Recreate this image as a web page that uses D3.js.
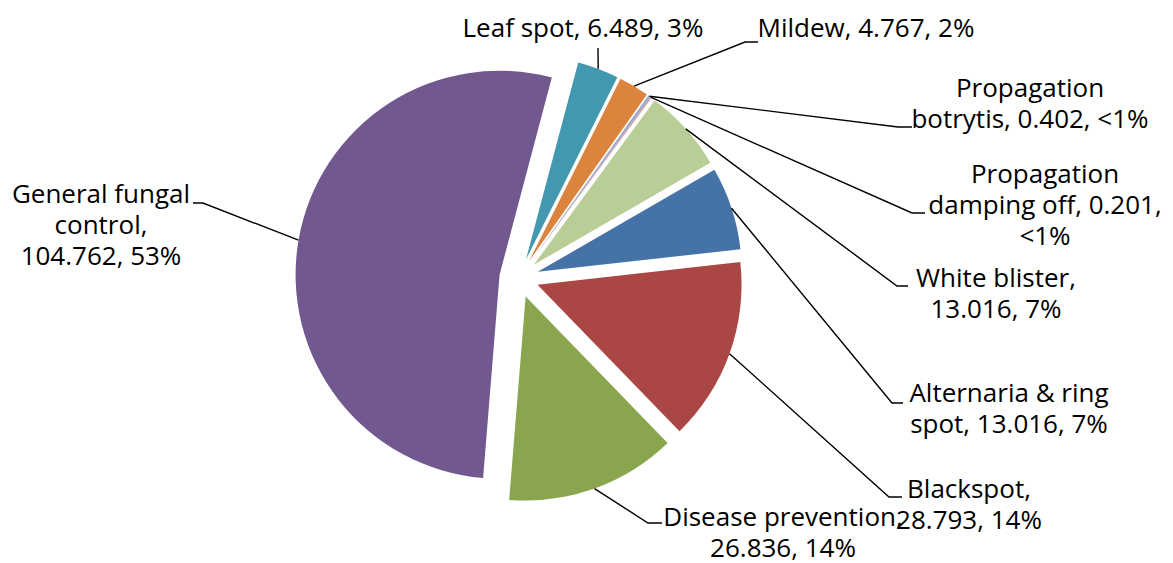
<!DOCTYPE html>
<html><head><meta charset="utf-8">
<script src="https://cdn.jsdelivr.net/npm/d3@7"></script>
<style>body{margin:0;background:#fff}svg{display:block}</style>
</head><body>
<svg id="chart" width="1173" height="563"></svg>
<script>
// ---- data ----
const categories = ["Alternaria & ring spot","Blackspot","Disease prevention","General fungal control","Leaf spot","Mildew","Propagation botrytis","Propagation damping off","White blister"];
const values = [13.016,28.793,26.836,104.762,6.489,4.767,0.402,0.201,13.016];
const percentLabels = ["7%","14%","14%","53%","3%","2%","<1%","<1%","7%"];
const colors = ["#4572A7","#AA4643","#89A54E","#71588F","#4198AF","#DB843D","#93A9CF","#D19392","#B9CD96"];

// ---- layout ----
const cx = 519, cy = 278, R = 204, explode = 19.7, startDeg = 60;
const fontSize = 26, lineH = 31;
const labelLayout = [
  {breaks:[3,3],   x:1009, y:402, pts:[[892,403],[903,403]]},
  {breaks:[1,2],   x:969,  y:498, pts:[[889,497],[902,497]]},
  {breaks:[2,2],   x:783,  y:526, pts:[[648,523],[662,523]]},
  {breaks:[2,1,2], x:101,  y:203, pts:[[203,203],[193,203]]},
  {breaks:[5],     x:583,  y:37,  pts:[[598,48]]},
  {breaks:[3],     x:866,  y:37,  pts:[[745,42],[758,42]]},
  {breaks:[1,3],   x:1030, y:97,  pts:[[898,127],[912,127]]},
  {breaks:[1,3,1], x:1045, y:183, pts:[[912,213],[925,213]]},
  {breaks:[2,2],   x:996,  y:287, pts:[[897,286],[908,286]]}
];

const svg = d3.select("#chart");
const fmt = d3.format(".3f");
const rows = categories.map((c,i)=>({name:c, value:values[i], pct:percentLabels[i], color:colors[i], i}));

const pie = d3.pie().sort(null).value(d=>d.value)
  .startAngle(startDeg*Math.PI/180).endAngle(startDeg*Math.PI/180 + 2*Math.PI);
const arcs = pie(rows);
const arc = d3.arc().innerRadius(0).outerRadius(R);

const gPie = svg.append("g");
gPie.selectAll("path").data(arcs).enter().append("path")
  .attr("d", arc)
  .attr("fill", d=>d.data.color)
  .attr("transform", d=>{
    const m = (d.startAngle+d.endAngle)/2;
    return `translate(${cx+explode*Math.sin(m)},${cy-explode*Math.cos(m)})`;
  });

// leader lines
const gLines = svg.append("g");
arcs.forEach(d=>{
  const m = (d.startAngle+d.endAngle)/2;
  const s = [cx+(explode+R)*Math.sin(m), cy-(explode+R)*Math.cos(m)];
  const L = labelLayout[d.data.i];
  const pts = [s].concat(L.pts);
  gLines.append("path")
    .attr("d", d3.line()(pts))
    .attr("fill","none").attr("stroke","#000").attr("stroke-width",1.4);
});

// labels
const gLab = svg.append("g")
  .attr("font-family","'Open Sans', 'Noto Sans', sans-serif")
  .attr("font-size", fontSize).attr("fill","#000");
arcs.forEach(d=>{
  const L = labelLayout[d.data.i];
  const words = `${d.data.name}, ${fmt(d.data.value)}, ${d.data.pct}`.split(" ");
  const lines = []; let k = 0;
  L.breaks.forEach(n=>{ lines.push(words.slice(k,k+n).join(" ")); k+=n; });
  const t = gLab.append("text").attr("text-anchor","middle");
  lines.forEach((ln,j)=>{
    t.append("tspan").attr("x",L.x).attr("y",L.y + j*lineH).text(ln);
  });
});
</script>
</body></html>
